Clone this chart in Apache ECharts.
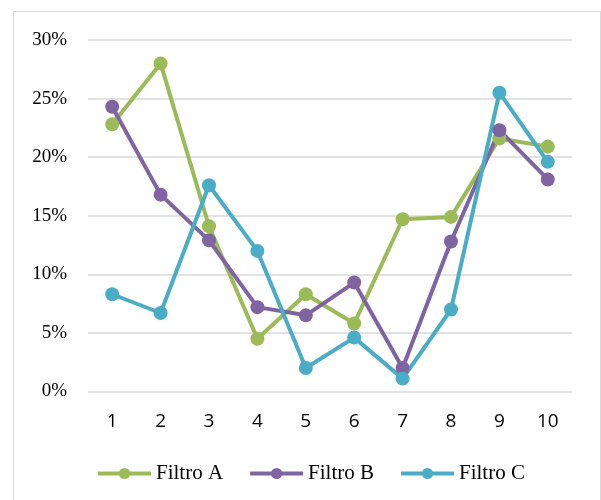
<!DOCTYPE html>
<html>
<head>
<meta charset="utf-8">
<script src="https://cdn.jsdelivr.net/npm/echarts@6/dist/echarts.min.js"></script>
<style>
  html, body { margin: 0; padding: 0; background: #fff; }
  #chart { width: 601px; height: 500px; }
</style>
</head>
<body>
<div id="chart"></div>
<script>
var categories = ['1', '2', '3', '4', '5', '6', '7', '8', '9', '10']
var filtroA = [22.8, 28.0, 14.1, 4.5, 8.3, 5.8, 14.7, 14.9, 21.6, 20.9]
var filtroB = [24.3, 16.8, 12.9, 7.2, 6.5, 9.3, 2.0, 12.8, 22.3, 18.1]
var filtroC = [8.3, 6.7, 17.6, 12.0, 2.0, 4.6, 1.1, 7.0, 25.5, 19.6]

var chart = echarts.init(document.getElementById('chart'))

function lineSeries(name, data, color) {
  return {
    name: name,
    type: 'line',
    data: data,
    symbol: 'circle',
    symbolSize: 14,
    lineStyle: { width: 4, color: color },
    itemStyle: { color: color },
    animation: false
  }
}

chart.setOption({
  graphic: [{
    type: 'rect',
    shape: { x: 13.5, y: 11.5, width: 587, height: 500 },
    style: { fill: 'none', stroke: '#d9d9d9', lineWidth: 1 },
    silent: true
  }],
  grid: {
    left: 88,
    right: 29,
    top: 40,
    bottom: 108.5
  },
  xAxis: {
    type: 'category',
    data: categories,
    boundaryGap: true,
    axisLine: { show: false },
    axisTick: { show: false },
    axisLabel: {
      color: '#000',
      fontFamily: 'Open Sans',
      fontSize: 19,
      margin: 21
    }
  },
  yAxis: {
    type: 'value',
    min: 0,
    max: 30,
    interval: 5,
    axisLine: { show: false },
    axisTick: { show: false },
    axisLabel: {
      formatter: '{value}%',
      color: '#000',
      fontFamily: 'Liberation Serif',
      fontSize: 19,
      margin: 21
    },
    splitLine: { lineStyle: { color: '#d9d9d9', width: 1.5 } }
  },
  legend: {
    top: 458,
    left: 91,
    itemWidth: 53,
    itemHeight: 14,
    itemGap: 25,
    lineStyle: { width: 4 },
    textStyle: {
      color: '#000',
      fontFamily: 'Liberation Serif',
      fontSize: 21
    },
    data: ['Filtro A', 'Filtro B', 'Filtro C']
  },
  series: [
    lineSeries('Filtro A', filtroA, '#9bbb59'),
    lineSeries('Filtro B', filtroB, '#8064a2'),
    lineSeries('Filtro C', filtroC, '#4bacc6')
  ]
})
</script>
</body>
</html>
